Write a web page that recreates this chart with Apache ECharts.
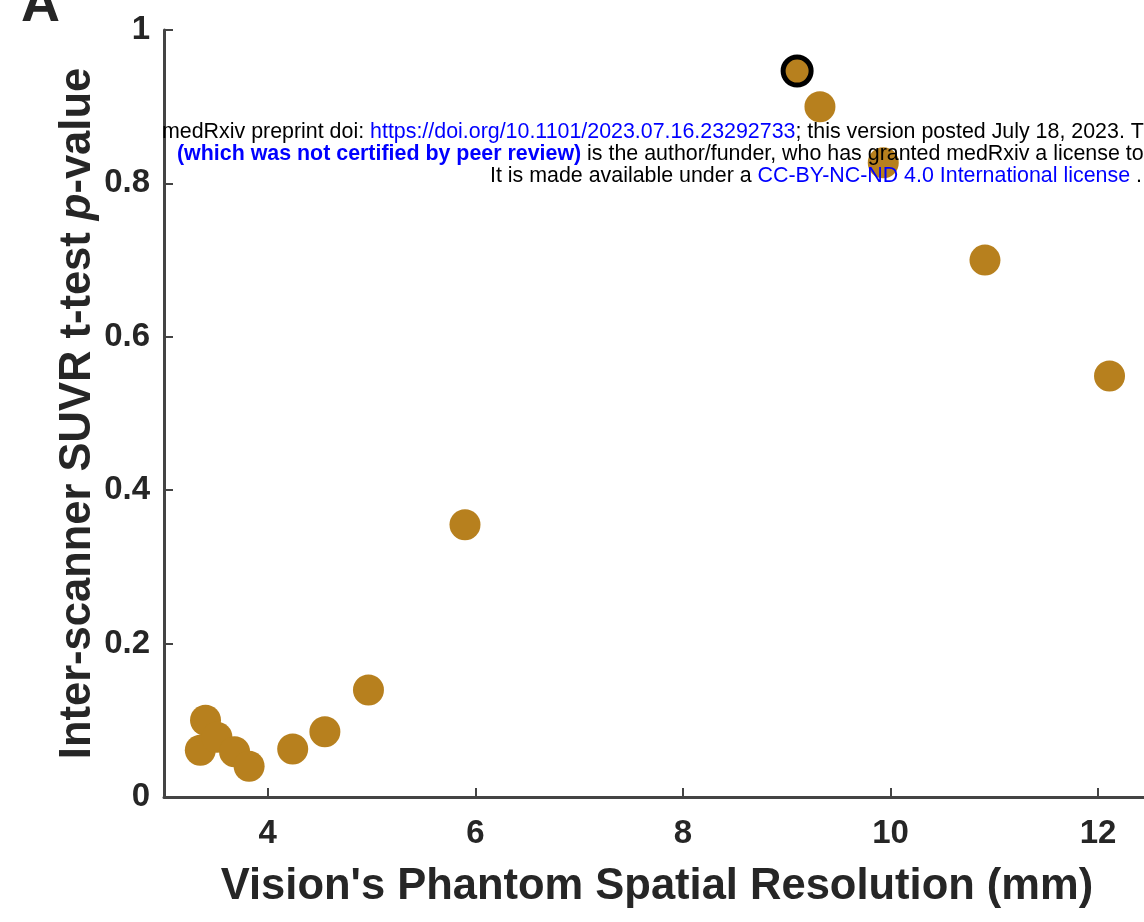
<!DOCTYPE html>
<html>
<head>
<meta charset="utf-8">
<script src="https://cdn.jsdelivr.net/npm/echarts@6/dist/echarts.min.js"></script>
<style>
html,body{margin:0;padding:0;background:#fff;}
#chart{width:1144px;height:922px;}
</style>
</head>
<body>
<div id="chart"></div>
<script>
// Data
const resolutionMm = [3.40, 3.35, 3.51, 3.68, 3.82, 4.24, 4.55, 4.97, 5.90, 9.32, 9.93, 10.91, 12.11];
const pValues     = [0.100, 0.061, 0.078, 0.059, 0.040, 0.0626, 0.085, 0.1395, 0.355, 0.900, 0.827, 0.700, 0.549];
const highlightX = [9.10];
const highlightY = [0.9465];
const xTickValues = [4, 6, 8, 10, 12];
const yTickValues = [0, 0.2, 0.4, 0.6, 0.8, 1];

const mainPts = resolutionMm.map((x, i) => [x, pValues[i]]);
const hiPts = highlightX.map((x, i) => [x, highlightY[i]]);

const axisColor = '#444';
const textColor = '#262626';
const font = 'Liberation Sans, Arial, Helvetica, sans-serif';
const dotColor = '#b7801e';
const wmSize = 21.4;

const chart = echarts.init(document.getElementById('chart'), null, {renderer: 'canvas'});
chart.setOption({
  animation: false,
  backgroundColor: '#fff',
  grid: {left: 164, top: 30, width: 986, height: 767, containLabel: false, outerBoundsMode: 'none'},
  xAxis: {
    type: 'value', min: 3, max: 12.5,
    name: "Vision's Phantom Spatial Resolution (mm)",
    nameLocation: 'middle', nameGap: 68, nameMoveOverlap: false,
    nameTextStyle: {fontFamily: font, fontWeight: 'bold', fontSize: 43.5, color: textColor},
    axisLine: {show: true, lineStyle: {color: axisColor, width: 3}},
    axisTick: {show: true, inside: true, length: 9, lineStyle: {color: axisColor, width: 2}, customValues: xTickValues},
    axisLabel: {customValues: xTickValues, fontFamily: font, fontWeight: 'bold', fontSize: 33, color: textColor, margin: 20},
    splitLine: {show: false}
  },
  yAxis: {
    type: 'value', min: 0, max: 1,
    name: '{n|Inter-scanner SUVR t-test }{i|p}{n|-value}',
    nameLocation: 'middle', nameGap: 64, nameMoveOverlap: false,
    nameTextStyle: {
      rich: {
        n: {fontFamily: font, fontWeight: 'bold', fontSize: 43.5, color: textColor},
        i: {fontFamily: font, fontWeight: 'bold', fontStyle: 'italic', fontSize: 43.5, color: textColor}
      }
    },
    axisLine: {show: true, lineStyle: {color: axisColor, width: 3}},
    axisTick: {show: true, inside: true, length: 9, lineStyle: {color: axisColor, width: 2}, customValues: yTickValues},
    axisLabel: {customValues: yTickValues, fontFamily: font, fontWeight: 'bold', fontSize: 33, color: textColor, margin: 14},
    splitLine: {show: false}
  },
  series: [
    {
      type: 'scatter', data: mainPts, symbol: 'circle', symbolSize: 31,
      itemStyle: {color: dotColor, opacity: 1}, z: 2
    },
    {
      type: 'scatter', data: hiPts, symbol: 'circle', symbolSize: 28,
      itemStyle: {color: dotColor, borderColor: '#000', borderWidth: 5, opacity: 1}, z: 3
    }
  ],
  graphic: [
    {type: 'text', x: 21, y: -21, z: 100,
     style: {text: 'A', fontFamily: font, fontWeight: 'bold', fontSize: 54, lineHeight: 54, fill: textColor}},
    {type: 'text', x: 162, y: 122, z: 100,
     style: {
       text: '{k|medRxiv preprint doi: }{b|https://doi.org/10.1101/2023.07.16.23292733}{k|; this version posted July 18, 2023. The copyright holder for this preprint}',
       rich: {
         k: {fontFamily: font, fontSize: wmSize, fill: '#000'},
         b: {fontFamily: font, fontSize: wmSize, fill: '#0000ff'}
       }
     }},
    {type: 'text', x: 177, y: 144, z: 100,
     style: {
       text: '{bb|(which was not certified by peer review)}{k| is the author/funder, who has granted medRxiv a license to display the preprint in perpetuity.}',
       rich: {
         k: {fontFamily: font, fontSize: wmSize, fill: '#000'},
         bb: {fontFamily: font, fontSize: wmSize, fontWeight: 'bold', fill: '#0000ff'}
       }
     }},
    {type: 'text', x: 490, y: 166, z: 100,
     style: {
       text: '{k|It is made available under a }{b|CC-BY-NC-ND 4.0 International license}{k| .}',
       rich: {
         k: {fontFamily: font, fontSize: wmSize, fill: '#000'},
         b: {fontFamily: font, fontSize: wmSize, fill: '#0000ff'}
       }
     }}
  ]
});
</script>
</body>
</html>
